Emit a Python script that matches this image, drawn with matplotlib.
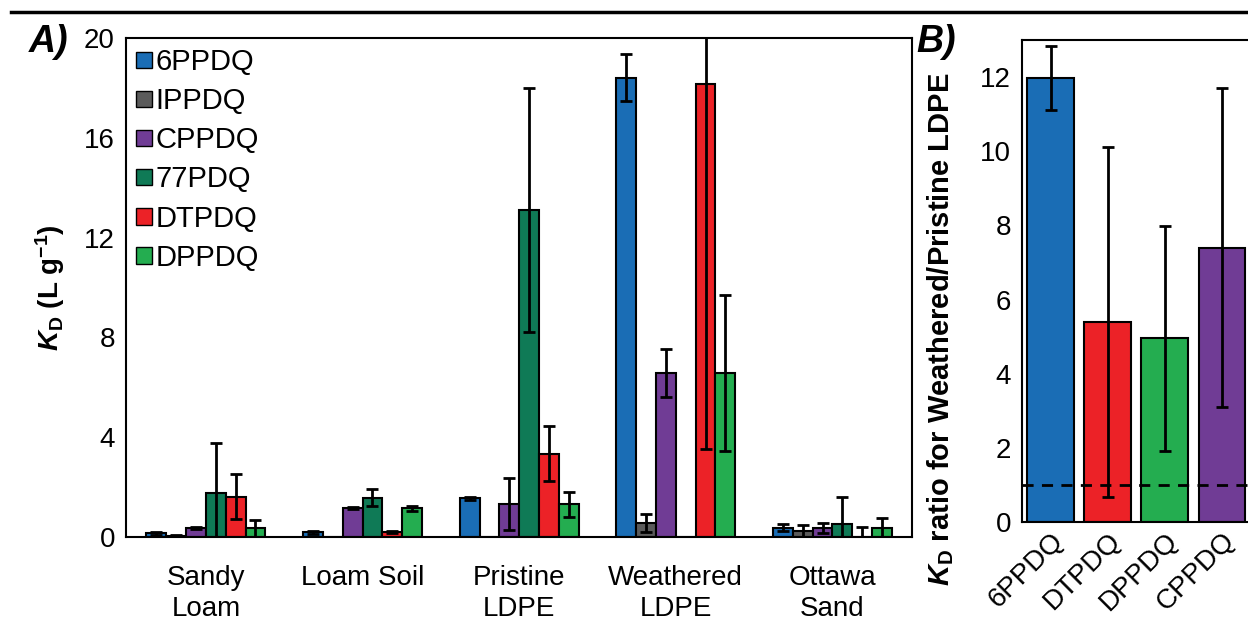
import matplotlib.pyplot as plt
import matplotlib.transforms as mtransforms
import numpy as np
from matplotlib.lines import Line2D
from matplotlib.patches import Patch

plt.rcParams['font.family'] = ['Liberation Sans', 'DejaVu Sans']
plt.rcParams['mathtext.fontset'] = 'custom'
plt.rcParams['mathtext.rm'] = 'Liberation Sans'
plt.rcParams['mathtext.it'] = 'Liberation Sans:italic'
plt.rcParams['mathtext.bf'] = 'Liberation Sans:bold'
plt.rcParams['mathtext.bfit'] = 'Liberation Sans:bold:italic'

# panel A: sorption coefficients per sorbent
sorbents = ['Sandy\nLoam', 'Loam Soil', 'Pristine\nLDPE', 'Weathered\nLDPE', 'Ottawa\nSand']
compounds = ['6PPDQ', 'IPPDQ', 'CPPDQ', '77PDQ', 'DTPDQ', 'DPPDQ']
colors = ['#1a6db5', '#5b5b5b', '#703c95', '#0f7a56', '#ec2227', '#24ad50']

kd = {
    '6PPDQ': [0.16, 0.19, 1.55, 18.41, 0.37],
    'IPPDQ': [0.05, 0.02, 0.02, 0.55, 0.25],
    'CPPDQ': [0.36, 1.17, 1.32, 6.57, 0.37],
    '77PDQ': [1.76, 1.58, 13.1, 0.0, 0.51],
    'DTPDQ': [1.62, 0.20, 3.33, 18.14, 0.02],
    'DPPDQ': [0.35, 1.15, 1.32, 6.57, 0.37],
}
kd_err = {
    '6PPDQ': [0.06, 0.06, 0.05, 0.93, 0.14],
    'IPPDQ': [0.02, 0.0, 0.0, 0.36, 0.23],
    'CPPDQ': [0.05, 0.05, 1.05, 0.95, 0.20],
    '77PDQ': [2.0, 0.33, 4.9, 0.0, 1.1],
    'DTPDQ': [0.9, 0.05, 1.1, 14.6, 0.39],
    'DPPDQ': [0.33, 0.10, 0.5, 3.14, 0.40],
}

# panel B: weathered / pristine LDPE ratio
ratio_names = ['6PPDQ', 'DTPDQ', 'DPPDQ', 'CPPDQ']
ratio_vals = [11.97, 5.4, 4.95, 7.4]
ratio_err = [0.87, 4.72, 3.03, 4.3]
ratio_colors = ['#1a6db5', '#ec2227', '#24ad50', '#703c95']

fig = plt.figure(figsize=(12.48, 6.23), dpi=100)
axA = fig.add_axes([0.101, 0.138, 0.630, 0.801])
axB = fig.add_axes([0.819, 0.162, 0.183, 0.774])

x = np.arange(len(sorbents))
w = 0.1265
ekw = dict(ecolor='black', elinewidth=2, capsize=4, capthick=2)
for i, c in enumerate(compounds):
    axA.bar(x + (i - 2.5) * w, kd[c], w, yerr=kd_err[c], color=colors[i],
            edgecolor='black', linewidth=1.5, error_kw=ekw, label=c)

axA.set_xlim(-0.51, 4.51)
axA.set_ylim(0, 20)
axA.set_yticks(range(0, 21, 4))
axA.set_xticks(x)
axA.set_xticklabels(sorbents, fontsize=20, linespacing=1.25)
axA.tick_params(axis='y', labelsize=20, length=0, pad=8)
axA.tick_params(axis='x', length=0, pad=20)
axA.set_ylabel(r'$\mathbfit{K}_\mathbf{D}$ (L g$^{\mathbf{-1}}$)', fontsize=20,
               fontweight='bold', labelpad=12)
for s in axA.spines.values():
    s.set_linewidth(1.5)

handles = [Patch(facecolor=col, edgecolor='black', linewidth=1) for col in colors]
axA.legend(handles, compounds, loc='upper left', frameon=False, fontsize=21,
           handlelength=0.55, handleheight=0.5, handletextpad=0.12,
           labelspacing=0.38, borderpad=0.15, borderaxespad=0.2)

xb = np.arange(len(ratio_names))
axB.bar(xb, ratio_vals, 0.82, yerr=ratio_err, color=ratio_colors,
        edgecolor='black', linewidth=1.5, error_kw=ekw)
axB.axhline(1, color='black', linestyle=(0, (4, 3)), linewidth=2, zorder=5)
axB.set_xlim(-0.5, 3.5)
axB.set_ylim(0, 13)
axB.set_yticks(range(0, 13, 2))
axB.set_xticks(xb)
axB.set_xticklabels(ratio_names, rotation=45, ha='right', rotation_mode='anchor',
                    fontsize=20)
shift = mtransforms.ScaledTranslation(0.12, -0.06, fig.dpi_scale_trans)
for lab in axB.get_xticklabels():
    lab.set_transform(lab.get_transform() + shift)
axB.tick_params(axis='y', labelsize=20, length=0, pad=8)
axB.tick_params(axis='x', length=0, pad=4)
axB.set_ylabel(r'$\mathbfit{K}_\mathbf{D}$ ratio for Weathered/Pristine LDPE',
               fontsize=21, fontweight='bold')
axB.yaxis.set_label_coords(-0.29, 0.40)
for s in axB.spines.values():
    s.set_linewidth(1.5)

fig.text(0.023, 0.916, 'A)', fontsize=27, fontweight='bold', style='italic')
fig.text(0.734, 0.916, 'B)', fontsize=27, fontweight='bold', style='italic')
fig.add_artist(Line2D([0.009, 1.0], [0.980, 0.980], color='black', linewidth=2.5))

fig.savefig('out.png', dpi=100)
